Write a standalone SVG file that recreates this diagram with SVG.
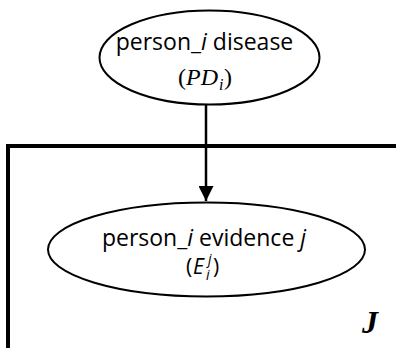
<svg xmlns="http://www.w3.org/2000/svg" width="396" height="348" viewBox="0 0 396 348">
  <style>
    .node { fill: #ffffff; stroke: #000000; stroke-width: 2; }
    .lbl { font-family: "Open Sans", "Liberation Sans", sans-serif; font-size: 23px; fill: #000000; }
    .math { font-family: "Liberation Serif", serif; font-size: 24px; fill: #000000; }
    .sm { font-family: "Open Sans", "Liberation Sans", sans-serif; font-size: 21px; fill: #000000; }
    .it { font-style: italic; }
    .plate { fill: none; stroke: #000000; stroke-width: 4; }
    .edge { stroke: #000000; stroke-width: 2.5; fill: none; }
  </style>
  <defs>
    <marker id="arrow" markerUnits="userSpaceOnUse" viewBox="0 0 15 15" refX="15" refY="7.5" markerWidth="15" markerHeight="15" orient="auto">
      <path d="M0,0 L15,7.5 L0,15 Z" fill="#000000"/>
    </marker>
  </defs>
  <rect width="396" height="348" fill="#ffffff"/>

  <!-- plate J -->
  <g id="plate">
    <polyline class="plate" points="8,348 8,146 396,146"/>
    <text x="362" y="333" font-family="Liberation Serif, serif" font-size="32" font-weight="bold" font-style="italic">J</text>
  </g>

  <!-- connectors -->
  <g id="edges">
    <line class="edge" x1="206" y1="105" x2="206" y2="201" marker-end="url(#arrow)"/>
  </g>

  <!-- person disease node -->
  <g id="PD">
    <ellipse class="node" cx="209.5" cy="57.5" rx="110" ry="47"/>
    <text class="lbl" x="204.5" y="50" text-anchor="middle">person_<tspan class="it">i</tspan> disease</text>
    <text class="math" y="85"><tspan x="178">(</tspan><tspan x="186" class="it">PD</tspan><tspan x="219" y="90" class="it" font-size="16">i</tspan><tspan x="224" y="85">)</tspan></text>
  </g>

  <!-- person evidence node -->
  <g id="E">
    <ellipse class="node" cx="206.5" cy="249.5" rx="158.5" ry="47"/>
    <text class="lbl" x="204" y="246" text-anchor="middle">person_<tspan class="it">i</tspan> evidence <tspan class="it">j</tspan></text>
    <text class="sm" y="274"><tspan x="186">(</tspan><tspan x="193" class="it">E</tspan><tspan x="206" y="280" class="it" font-size="14">i</tspan><tspan x="208" y="264" class="it" font-size="14">j</tspan><tspan x="213" y="274">)</tspan></text>
  </g>
</svg>
